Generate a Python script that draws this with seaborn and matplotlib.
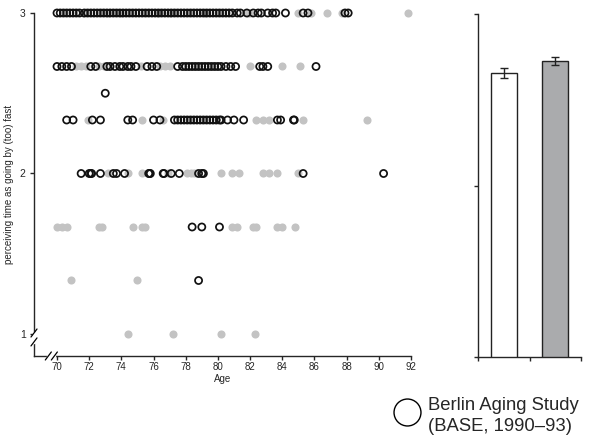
import pandas as pd
import numpy as np
import matplotlib.pyplot as plt
import seaborn as sns
from matplotlib.lines import Line2D

sns.set_style("ticks")
plt.rcParams['font.family'] = ['Liberation Sans', 'DejaVu Sans']

# ages per answer level
# open circles = Berlin Aging Study (BASE)
base_3 = [70.0, 70.2, 70.4, 70.6, 70.8, 71.0, 71.2, 71.4, 71.7, 71.9, 72.1, 72.3, 72.5, 72.7,
          72.9, 73.1, 73.3, 73.5, 73.7, 73.9, 74.1, 74.3, 74.5, 74.7, 74.9, 75.1, 75.3, 75.5,
          75.7, 75.9, 76.1, 76.3, 76.5, 76.7, 76.9, 77.1, 77.3, 77.5, 77.7, 77.9, 78.1, 78.3,
          78.5, 78.7, 78.9, 79.1, 79.3, 79.5, 79.7, 79.9, 80.1, 80.3, 80.5, 80.7, 80.9, 81.2,
          81.4, 81.8, 82.2, 82.5, 82.7, 83.1, 83.4, 83.6, 84.2, 85.3, 85.6, 87.9, 88.1]
base_267 = [70.0, 70.3, 70.6, 70.9, 72.1, 72.4, 73.1, 73.3, 73.6, 73.9, 74.1, 74.4, 74.6, 74.9,
            75.6, 75.9, 76.2, 77.5, 77.8, 78.0, 78.2, 78.4, 78.6, 78.8, 79.0, 79.2, 79.4, 79.6,
            79.8, 80.0, 80.2, 80.5, 80.8, 81.1, 82.6, 82.8, 83.1, 86.1]
base_25 = [73.0]
base_233 = [70.6, 71.0, 72.2, 72.7, 74.4, 74.7, 76.0, 76.4, 77.3, 77.5, 77.7, 77.9, 78.1, 78.3,
            78.5, 78.7, 78.9, 79.1, 79.3, 79.5, 79.7, 79.9, 80.1, 80.2, 80.6, 81.0, 81.6,
            83.7, 83.9, 84.7, 84.75]
base_2 = [71.5, 72.0, 72.1, 72.15, 72.7, 73.5, 73.7, 74.2, 75.7, 75.75, 75.8, 76.6, 76.65,
          77.1, 77.6, 78.8, 79.0, 79.1, 85.3, 90.3]
base_167 = [78.4, 79.0, 80.1]
base_133 = [78.8]

# filled grey dots = comparison sample
grey_3 = [71.6, 73.2, 74.0, 76.3, 77.0, 79.2, 81.9, 82.0, 85.0, 85.8, 86.8, 87.7, 91.8]
grey_267 = [71.2, 71.5, 71.8, 72.6, 72.9, 75.2, 76.4, 76.7, 77.0, 82.0, 84.0, 85.1]
grey_233 = [71.9, 75.3, 76.6, 82.4, 82.8, 83.2, 85.3, 89.3]
grey_2 = [73.2, 74.4, 75.3, 76.9, 78.1, 78.3, 78.5, 80.2, 80.9, 81.3, 82.8, 83.2, 83.7, 85.0]
grey_167 = [70.0, 70.3, 70.6, 72.6, 72.8, 74.7, 75.3, 75.5, 80.9, 81.2, 82.2, 82.4, 83.7,
            84.0, 84.8]
grey_133 = [70.9, 75.0]
grey_1 = [74.4, 77.2, 80.2, 82.3]

# mean ratings with SE
bar_groups = ['BASE', 'other']
bar_means = [2.656, 2.726]
bar_se = [0.029, 0.026]
bar_colors = ['white', '#aaabad']


def rows(groups):
    out = []
    for level, ages in groups:
        for a in ages:
            out.append((a, level))
    return pd.DataFrame(out, columns=['age', 'time'])


df_base = rows([(3, base_3), (8 / 3, base_267), (2.5, base_25), (7 / 3, base_233),
                (2, base_2), (5 / 3, base_167), (4 / 3, base_133)])
df_grey = rows([(3, grey_3), (8 / 3, grey_267), (7 / 3, grey_233), (2, grey_2),
                (5 / 3, grey_167), (4 / 3, grey_133), (1, grey_1)])

fig = plt.figure(figsize=(6.06, 4.42), dpi=100)

# scatter panel
ax = fig.add_axes([0.0561, 0.1946, 0.622, 0.776])
sns.scatterplot(data=df_grey, x='age', y='time', ax=ax, color='#c3c3c3', s=34,
                linewidth=0, clip_on=False, zorder=2)
sns.scatterplot(data=df_base, x='age', y='time', ax=ax, facecolor='none',
                edgecolor='#111111', s=26, linewidth=1.25, clip_on=False, zorder=3)
ax.set_xlim(68.57, 92)
ax.set_ylim(0.863, 3)
ax.set_xticks(np.arange(70, 93, 2))
ax.set_yticks([1, 2, 3])
ax.set_yticklabels(['1', '2', '3'])
for s in ['top', 'right']:
    ax.spines[s].set_visible(False)
for s in ['left', 'bottom']:
    ax.spines[s].set_linewidth(1.0)
ax.tick_params(axis='x', length=3, width=1.0, labelsize=7, pad=1.5)
ax.tick_params(axis='y', length=3, width=1.0, labelsize=7.5, pad=3)
ax.set_xlabel('Age', fontsize=7, labelpad=1.5)
ax.set_ylabel('perceiving time as going by (too) fast', fontsize=7, labelpad=4)

# axis breaks
dx, dy = 0.008, 0.0117
ax.plot([0, 0], [0.041, 0.067], transform=ax.transAxes, color='white', lw=2.5,
        clip_on=False, zorder=5)
for yb in [0.041, 0.067]:
    ax.plot([-dx, dx], [yb - dy, yb + dy], transform=ax.transAxes, color='black', lw=0.9,
            clip_on=False, zorder=6)
ax.plot([0.038, 0.054], [0, 0], transform=ax.transAxes, color='white', lw=2.5,
        clip_on=False, zorder=5)
for xb in [0.038, 0.054]:
    ax.plot([xb - dx, xb + dx], [-dy, dy], transform=ax.transAxes, color='black', lw=0.9,
            clip_on=False, zorder=6)

# bar panel
ax2 = fig.add_axes([0.7888, 0.1923, 0.17, 0.776])
bdf = pd.DataFrame({'group': bar_groups, 'mean': bar_means})
sns.barplot(data=bdf, x='group', y='mean', ax=ax2, palette=bar_colors, hue='group',
            legend=False, width=0.5, edgecolor='#222222', linewidth=1.0, errorbar=None)
ax2.errorbar(range(len(bar_means)), bar_means, yerr=bar_se, fmt='none', ecolor='#222222',
             elinewidth=1.0, capsize=2.9, capthick=1.0)
ax2.set_ylim(1, 3)
ax2.set_xlim(-0.5, 1.5)
ax2.set_yticks([1, 2, 3])
ax2.set_yticklabels([])
ax2.set_xticks([-0.5, 0.5, 1.5])
ax2.set_xticklabels([])
ax2.set_xlabel('')
ax2.set_ylabel('')
for s in ['top', 'right']:
    ax2.spines[s].set_visible(False)
for s in ['left', 'bottom']:
    ax2.spines[s].set_linewidth(1.0)
ax2.tick_params(length=3, width=1.0)

# legend
fig.add_artist(Line2D([0.6708], [0.069], transform=fig.transFigure, marker='o',
                      markersize=19.4, markerfacecolor='none', markeredgecolor='black',
                      markeredgewidth=1.0, linestyle='none'))
fig.text(0.706, 1 - 409.5 / 442, 'Berlin Aging Study', fontsize=13.3, va='baseline')
fig.text(0.706, 1 - 431 / 442, '(BASE, 1990\u201393)', fontsize=13.3, va='baseline')

fig.savefig('out.png', dpi=100)
